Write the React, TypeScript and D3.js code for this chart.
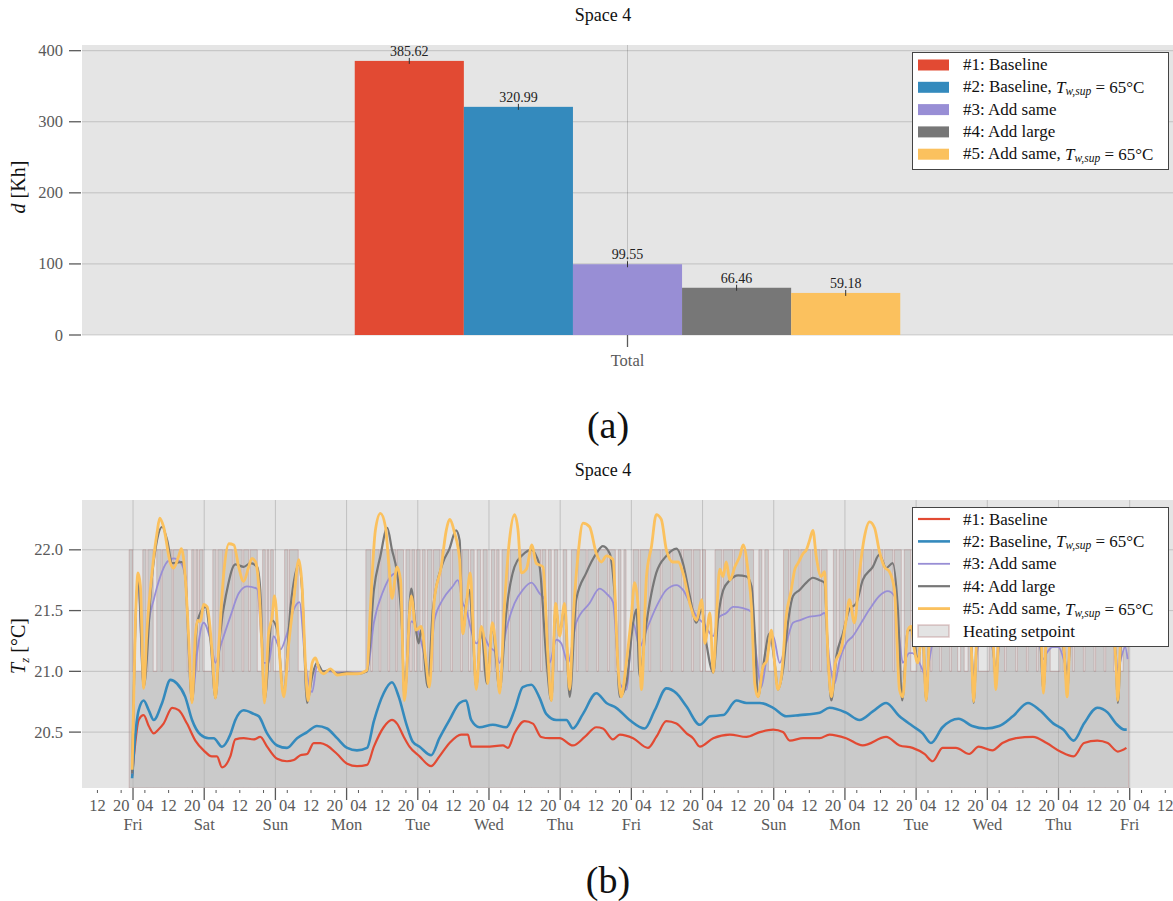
import React from 'react';
import * as d3 from 'd3';

const W = 1173;
const H = 901;
const FONT = "'Liberation Serif', 'DejaVu Serif', serif";

// ---------- Data: bar chart (a) ----------
const barCategories = ['Total'];
const barValues = [385.62, 320.99, 99.55, 66.46, 59.18];
const seriesColors = ['#E24A33', '#348ABD', '#988ED5', '#777777', '#FBC15E'];
const legendBase = ['#1: Baseline', '#2: Baseline, ', '#3: Add same', '#4: Add large', '#5: Add same, '];
const legendHasTsup = [false, true, false, false, true];
const barYTicks = [0, 100, 200, 300, 400];

// ---------- Data: time series (b), [hour since Fri 00:00, °C] ----------
const tempTicks = [20.5, 21.0, 21.5, 22.0];
const dayLabels = ['Fri', 'Sat', 'Sun', 'Mon', 'Tue', 'Wed', 'Thu', 'Fri', 'Sat', 'Sun', 'Mon', 'Tue', 'Wed', 'Thu', 'Fri'];
const hourTicks = [4, 12, 20];

const s1Baseline: [number, number][] = [
  [-0.3,20.14],[0.5,20.35],[1.9,20.60],[3.6,20.64],[5.3,20.55],[7,20.49],[8.5,20.52],[10.3,20.57],[13.2,20.70],[15.4,20.68],[18.2,20.57],[21,20.43],[23.8,20.35],[26.6,20.30],[28.3,20.30],[30,20.21],[32.8,20.30],[34.5,20.44],[37.3,20.45],[40.7,20.44],[42.9,20.46],[45.2,20.38],[48.6,20.28],[51.9,20.26],[54.2,20.27],[56.4,20.31],[58.7,20.32],[60.9,20.41],[63.2,20.41],[65.4,20.39],[68.8,20.32],[72.2,20.24],[75.5,20.22],[78.9,20.23],[81.2,20.38],[84.5,20.54],[87.3,20.60],[89,20.57],[91.3,20.46],[93.2,20.38],[96.6,20.30],[100.5,20.22],[103.3,20.30],[106.7,20.41],[110.6,20.48],[112.9,20.48],[114,20.38],[119.1,20.38],[124.7,20.39],[126.4,20.37],[128.6,20.49],[132,20.59],[134.8,20.57],[137.6,20.46],[140.4,20.45],[143.8,20.45],[148.3,20.39],[152.3,20.46],[156.2,20.54],[158.4,20.53],[161.8,20.44],[164.1,20.48],[168.6,20.45],[173.6,20.37],[176.4,20.46],[179.8,20.59],[183.2,20.57],[186.6,20.49],[188.8,20.45],[191.1,20.38],[195.6,20.45],[201.2,20.48],[206.8,20.46],[211.3,20.50],[215.8,20.52],[219.1,20.50],[221.4,20.43],[225.9,20.45],[231.5,20.45],[234.8,20.48],[240.4,20.45],[246,20.39],[253.9,20.46],[258.4,20.39],[262.8,20.37],[266.8,20.32],[269.6,20.26],[272.9,20.37],[277.4,20.37],[281.9,20.32],[285.1,20.38],[289.7,20.35],[293.1,20.41],[297.7,20.45],[303.4,20.46],[308,20.41],[312.6,20.34],[317.1,20.30],[320.6,20.41],[325.1,20.43],[328.6,20.41],[332,20.34],[334.9,20.37]
];

const s2Baseline65: [number, number][] = [
  [-0.3,20.12],[0.5,20.4],[1.9,20.68],[3.6,20.76],[5.3,20.68],[7,20.60],[9.8,20.74],[12.6,20.93],[14.8,20.90],[17.6,20.79],[19.9,20.60],[22.7,20.48],[25.5,20.45],[27.2,20.45],[30,20.38],[32.8,20.48],[34.5,20.60],[37.3,20.68],[40.7,20.65],[42.4,20.63],[45.2,20.49],[48.6,20.39],[51.9,20.37],[55.3,20.45],[58.7,20.50],[62,20.55],[65.4,20.53],[68.8,20.45],[72.2,20.37],[75.5,20.35],[78.9,20.37],[81.2,20.59],[84.5,20.82],[87.3,20.91],[89.6,20.79],[92.1,20.57],[94.3,20.42],[96.6,20.38],[100.5,20.31],[103.3,20.45],[106.7,20.60],[110.1,20.74],[112.3,20.76],[114,20.60],[116.8,20.54],[121.3,20.56],[125.8,20.54],[128.6,20.68],[131.4,20.87],[134.3,20.89],[137.1,20.78],[139.3,20.65],[142.7,20.60],[146.1,20.60],[148.3,20.53],[151.7,20.65],[156.2,20.82],[159.6,20.74],[162.9,20.70],[167.4,20.60],[172.5,20.53],[175.9,20.68],[179.8,20.86],[183.2,20.82],[186.6,20.71],[191.1,20.56],[194.5,20.63],[199,20.64],[203.4,20.76],[206.8,20.74],[211.3,20.74],[215.8,20.70],[220.3,20.63],[224.7,20.64],[231.5,20.66],[234.8,20.70],[240.4,20.66],[244.9,20.60],[249.4,20.67],[253.9,20.74],[258.4,20.63],[262.8,20.55],[266.2,20.49],[269,20.41],[272.9,20.54],[278.3,20.61],[282.9,20.55],[287.4,20.53],[292,20.55],[296.6,20.63],[301.7,20.74],[305.7,20.68],[310.3,20.57],[313.7,20.52],[317.1,20.43],[320.6,20.57],[325.1,20.70],[328.6,20.66],[331.4,20.57],[334.3,20.52],[335,20.52]
];

const s3AddSame: [number, number][] = [
  [-0.3,20.16],[1.7,21.75],[3.6,20.87],[5.3,21.40],[7,21.59],[9.2,21.78],[11.5,21.90],[13.7,21.93],[15.9,21.90],[17.6,21.78],[19.9,20.76],[21.6,21.15],[23.8,21.40],[26.1,21.26],[27.8,21.07],[29.4,21.20],[32.8,21.45],[35.6,21.64],[38.4,21.70],[41.8,21.68],[44.1,21.07],[45.7,21.07],[47.4,21.29],[49.7,21.18],[51.9,21.31],[54.2,21.51],[56.1,21.57],[58.1,21.07],[60.4,20.83],[62,21.04],[64,21.0],[66.5,21.0],[69,20.99],[72.2,20.99],[75.5,20.99],[78.9,21.0],[81.2,21.40],[84.5,21.67],[86.8,21.78],[89,21.81],[90.7,21.34],[91.5,20.79],[93.8,21.41],[95.4,21.37],[96.6,21.29],[98.8,21.07],[99.9,20.96],[101.6,21.42],[104.4,21.59],[107.8,21.70],[109.5,21.75],[111.2,21.56],[112.3,21.51],[114,21.34],[115.7,21.23],[118,21.29],[120.2,21.20],[122.4,21.15],[123.6,21.07],[125.8,21.34],[128.6,21.56],[131.4,21.67],[134.3,21.73],[137.1,21.64],[138.8,21.59],[140.4,21.07],[142.7,21.26],[144.4,21.23],[146.6,21.07],[149.4,21.40],[153.9,21.56],[157.3,21.68],[159.6,21.64],[161.8,21.57],[164.1,20.90],[166.3,20.85],[168.6,21.40],[170.8,21.20],[173.1,21.34],[176.4,21.53],[179.8,21.67],[183.2,21.71],[185.4,21.67],[188.3,21.53],[190,21.45],[192.2,21.40],[195.6,21.29],[197.3,21.44],[200,21.48],[202.3,21.53],[205.7,21.52],[208.5,21.49],[210.2,21.12],[211.8,20.87],[213.5,21.09],[215.8,21.29],[218,21.07],[220.2,21.23],[222.5,21.40],[224.7,21.42],[228.1,21.45],[231.5,21.46],[233.1,21.48],[234.8,21.09],[236.5,20.90],[238.2,21.09],[240.4,21.23],[242.7,21.29],[245.5,21.40],[248.3,21.51],[251.6,21.62],[254.4,21.66],[256.7,21.62],[258.4,21.26],[259.5,21.07],[261.7,21.15],[262.8,21.15],[265.1,21.07],[267.4,20.96],[268.5,21.1],[270,21.3],[272,21.45],[274,21.55],[276,21.55],[278,21.5],[280,21.45],[282.6,21.2],[283.4,20.95],[284.5,21.15],[286,21.3],[288,21.3],[290.3,21.1],[290.9,20.98],[292,21.2],[294,21.4],[296,21.5],[298,21.58],[300,21.6],[302,21.55],[304,21.5],[305.8,21.2],[306.9,21.1],[308,21.15],[310,21.2],[312,21.2],[314.3,21.05],[314.9,21.0],[316,21.2],[318,21.4],[320,21.5],[322,21.6],[324,21.65],[326,21.6],[328,21.5],[330,21.35],[331.3,21.15],[332,21.0],[333,21.1],[334.5,21.2],[335.3,21.1]
];

const s4AddLarge: [number, number][] = [
  [-0.3,20.16],[1.7,21.78],[3.6,20.87],[6.4,21.78],[8.1,22.08],[9.8,22.19],[11.5,22.08],[13.2,21.89],[16.5,21.90],[17.6,21.78],[19.9,20.75],[21.6,21.40],[24.4,21.53],[26.1,21.26],[27.8,20.78],[29.4,21.31],[31.7,21.67],[34.5,21.88],[37.3,21.86],[39.6,21.89],[41.8,21.86],[42.9,21.67],[44.3,20.76],[46.9,21.42],[48.6,21.34],[50.8,20.82],[53.1,21.53],[55.9,21.88],[57,21.67],[58.7,20.74],[60.4,20.96],[62,21.07],[64,21.0],[66.5,21.01],[69,20.98],[72.2,20.99],[75.5,20.98],[78.9,21.00],[81.2,21.67],[83.4,21.95],[85.7,22.18],[87.3,22.00],[89,21.81],[90.7,21.34],[91.5,20.79],[93.8,21.68],[95.4,21.34],[96.3,21.23],[97.1,21.34],[99.4,20.87],[101.1,21.51],[104.4,21.89],[106.7,22.01],[108.9,22.16],[110.1,22.08],[111.2,21.31],[112.3,21.56],[113.4,21.67],[114.6,21.29],[115.7,20.87],[117.4,21.34],[119.3,20.90],[121.1,21.37],[123.6,20.85],[125.8,21.48],[128.6,21.86],[131.4,21.96],[134.3,22.00],[135.9,21.95],[137.1,21.86],[139.3,21.12],[141,20.76],[142.5,21.53],[143.8,21.31],[145.5,21.53],[147.2,20.79],[149.4,21.59],[152.8,21.81],[156.2,21.97],[158.4,22.03],[160.7,21.97],[162.4,21.62],[164.1,20.79],[166.3,20.90],[168.6,21.40],[169.7,21.51],[170.8,20.96],[173.1,21.40],[176.4,21.81],[179.8,21.95],[183.2,22.01],[185.4,21.89],[187.7,21.62],[189.9,21.40],[191.7,21.51],[193.3,21.23],[195.6,20.99],[197.3,21.45],[199,21.67],[201.2,21.75],[204,21.79],[206.8,21.78],[208.5,21.70],[209.6,21.31],[210.7,20.79],[212.4,21.04],[214.6,21.31],[216.3,21.07],[217.4,20.85],[219.1,21.01],[220.8,21.40],[222.5,21.62],[224.7,21.67],[227,21.73],[229.2,21.77],[231.5,21.75],[233.1,21.73],[234.3,21.12],[235.4,20.76],[237.1,21.12],[239.3,21.31],[241.5,21.51],[243.8,21.56],[246,21.75],[249.4,21.86],[251.6,21.96],[253.9,21.85],[256.1,21.89],[257.8,21.53],[259.3,20.76],[261.2,21.34],[262.8,21.34],[264.5,21.09],[266.2,21.31],[267.4,20.76],[268.5,21.3],[270,21.6],[272,21.8],[274,21.9],[276,21.85],[278,21.75],[280,21.6],[282.6,21.25],[283.4,20.74],[284.5,21.3],[286,21.5],[288,21.45],[290.3,21.1],[290.9,20.9],[292,21.35],[294,21.7],[296,21.85],[298,21.95],[300,21.95],[302,21.85],[304,21.75],[305.8,21.3],[306.9,20.85],[308,21.3],[310,21.5],[312,21.4],[314.3,21.05],[314.9,20.82],[316,21.35],[318,21.7],[320,21.85],[322,21.95],[324,21.95],[326,21.85],[328,21.7],[330,21.45],[331.3,21.1],[332,20.74],[333,21.2],[334.5,21.45],[335.3,21.2]
];

const s5AddSame65: [number, number][] = [
  [-0.3,20.19],[0.8,21.40],[1.7,21.81],[2.5,21.70],[3.6,20.86],[4.7,21.34],[6.4,21.81],[8.1,22.14],[9,22.26],[10.3,22.19],[12.6,21.89],[13.7,21.85],[15.4,21.95],[16.3,22.01],[17.6,21.78],[18.8,21.26],[19.9,20.74],[21,21.29],[21.8,21.42],[22.7,21.41],[23.8,21.55],[25,21.53],[26.6,21.18],[27.8,20.78],[28.9,21.20],[30.6,21.81],[32.3,22.05],[34,22.04],[35.6,21.86],[37.3,21.74],[39,21.86],[40.1,21.93],[41.3,21.90],[42.4,21.70],[43.5,21.18],[44.3,20.74],[45.7,21.31],[46.9,21.45],[47.7,21.62],[49.1,21.23],[50.8,20.79],[52.5,21.23],[54.2,21.59],[55.9,21.92],[57,21.70],[58.1,21.07],[59,20.76],[60.4,21.07],[61.5,21.11],[62.9,21.01],[64.3,20.98],[66.5,21.02],[68.8,20.97],[72.2,20.98],[75.5,20.98],[78.9,21.01],[80,21.51],[81.7,22.16],[83.4,22.30],[85.1,22.19],[86.2,21.89],[87.3,21.60],[89,21.86],[90.2,21.75],[91.5,20.76],[93.8,21.62],[95.4,21.34],[97.1,21.37],[98.8,21.07],[99.9,20.87],[101.6,21.59],[103.9,21.86],[105.6,22.16],[106.7,22.25],[108.4,22.14],[110.1,21.92],[111.2,21.31],[112.3,21.53],[113.7,21.81],[114.6,21.40],[115.7,20.85],[117.4,21.37],[119.1,21.07],[119.6,20.90],[121.1,21.40],[122.4,21.18],[123.6,20.82],[125.2,21.53],[126.9,22.08],[128.6,22.29],[129.8,22.16],[130.9,21.81],[132.6,21.84],[134.5,22.04],[135.9,21.89],[138.2,21.86],[139.9,21.12],[141,20.76],[142.5,21.56],[143.8,21.29],[145.5,21.56],[147.2,20.85],[148.3,21.40],[150,21.95],[151.7,22.22],[153.9,22.19],[156.2,21.97],[157.9,21.90],[159.6,21.95],[161.8,21.92],[163.5,21.04],[164.6,20.79],[166.3,21.07],[168,21.45],[169.1,21.73],[170.3,21.53],[171.4,20.85],[173.1,21.78],[174.8,22.03],[176.4,22.29],[178.1,22.25],[179.8,22.00],[182,21.90],[183.8,21.90],[185.4,21.81],[187.7,21.56],[190,21.42],[191.7,21.59],[192.8,21.23],[194.5,21.48],[195.6,20.99],[196.7,21.45],[197.8,21.84],[198.9,21.78],[200,21.90],[201.2,21.75],[202.9,21.86],[204.6,21.95],[205.7,22.04],[207.4,21.81],[208.5,21.53],[209.6,20.90],[210.7,20.79],[212.4,21.04],[213.7,21.09],[215.2,21.34],[216.3,21.07],[217.4,20.85],[218.6,20.96],[220.2,21.45],[221.9,21.67],[223.1,21.84],[224.2,21.89],[225.9,21.97],[227,22.00],[228.1,22.08],[229.2,22.16],[230.3,21.95],[232,21.78],[233.1,21.82],[234.3,21.12],[235.4,20.79],[236.8,21.07],[238.7,21.18],[240.4,21.42],[241.5,21.59],[243.2,21.40],[244.9,21.81],[246.6,22.11],[248.3,22.23],[250,22.18],[251.6,21.99],[253.3,21.86],[255,21.82],[256.7,21.67],[258.4,20.85],[259.5,20.79],[261.2,21.34],[262.3,21.37],[263.4,21.18],[264.5,21.07],[266.2,21.34],[267.4,20.76],[268.5,21.3],[270,21.7],[272,21.95],[274,22.1],[276,21.9],[278,21.75],[280,21.6],[281.5,21.5],[282.6,21.2],[283.4,20.75],[284.5,21.3],[286,21.6],[288,21.5],[289.5,21.4],[290.3,21.1],[290.9,20.85],[292,21.4],[294,21.85],[296,22.1],[298,22.2],[300,22.0],[302,21.85],[304,21.8],[305.5,21.6],[306.3,21.2],[306.9,20.82],[308,21.35],[310,21.6],[312,21.45],[313.5,21.3],[314.3,21.0],[314.9,20.79],[316,21.4],[318,21.8],[320,22.05],[322,22.2],[324,22.0],[326,21.85],[328,21.8],[330,21.5],[331.3,21.1],[332,20.76],[333,21.3],[334.5,21.5],[335.3,21.2]
];

// Heating setpoint: 22 °C inside these [start, end] hour intervals, 21 °C otherwise
const setpointLow = 21;
const setpointHigh = 22;
const setpointSpan: [number, number] = [-1.3, 335.6];
const setpointOn: [number, number][] = [
  [-1.3,-0.2],[3.3,4.4],[5.0,6.8],[8.0,9.5],[9.9,13.2],[13.6,18.3],[19.8,20.6],[21.2,21.9],[22.4,23.6],
  [26.9,28.0],[28.6,30.2],[30.6,33.5],[34.0,36.8],[37.3,39.0],[39.5,41.9],[43.7,44.6],[45.2,45.8],[46.4,47.3],[51.1,52.2],[52.7,55.7],
  [78.5,80.2],[80.7,83.0],[83.5,86.0],[86.5,88.6],[89.0,91.2],[92.0,93.4],[94.0,95.0],[95.6,96.8],
  [97.5,98.5],[99.2,100.8],[101.3,103.5],[104.0,107.2],[107.7,110.5],[111.0,113.2],[113.8,115.0],[116.0,117.2],[118.0,119.4],
  [120.8,122.0],[122.6,123.4],[124.4,126.6],[127.1,130.4],[130.9,133.8],[134.3,137.4],[137.9,139.2],[140.0,141.0],[142.0,143.2],
  [145.0,146.2],[147.8,149.5],[150.0,152.8],[153.3,156.4],[156.9,160.0],[160.5,162.6],[163.6,164.5],
  [165.5,166.2],[168.6,170.5],[171.0,174.0],[174.5,177.8],[178.3,181.4],[181.9,185.0],[185.5,188.4],[188.9,191.2],
  [192.0,193.0],[196.2,198.5],[199.0,202.2],[202.7,205.8],[206.3,209.2],[211.0,212.0],[213.0,214.2],
  [219.3,221.0],[221.5,224.6],[225.1,228.4],[228.9,231.6],[232.1,234.0],[236.1,237.3],[238.0,239.5],[240.2,242.9],
  [243.4,245.6],[246.1,249.0],[249.5,252.8],[253.3,256.2],[256.7,259.0],[260.0,262.2],
  [264.2,265.5],[266.2,268.8],[269.3,272.0],[272.5,275.4],[275.9,278.0],[279.0,280.2],[281.5,282.5],[284.0,285.0],
  [288.6,290.0],[291.2,293.8],[294.3,297.6],[298.1,301.2],[301.7,304.6],[305.1,306.8],[308.0,309.2],
  [312.4,313.6],[314.4,316.8],[317.3,320.4],[320.9,324.0],[324.5,327.4],[327.9,330.6],[331.5,332.8],[333.8,335.6]
];

const tempSeries = [s1Baseline, s2Baseline65, s3AddSame, s4AddLarge, s5AddSame65];
const lineWidths = [2.2, 2.6, 1.8, 2.2, 2.8];

// ---------- Layout ----------
const A = { left: 82, right: 1173, top: 45, bottom: 335 };
const B = { left: 82, right: 1173, top: 500, bottom: 788 };
const BG = '#E5E5E5';
const GRID = 'rgba(0,0,0,0.16)';
const TICKC = '#5a5a5a';
const TICKFS = 16.5;

function LegendLabel({ i, x, y }: { i: number; x: number; y: number }) {
  return (
    <text x={x} y={y} fontSize={17} fill="#111" dominantBaseline="central">
      {legendBase[i]}
      {legendHasTsup[i] && (
        <>
          <tspan fontStyle="italic">T</tspan>
          <tspan fontStyle="italic" fontSize={11.5} dy={4}>w,sup</tspan>
          <tspan dy={-4}>{' = 65°C'}</tspan>
        </>
      )}
    </text>
  );
}

export default function App() {
  // ---- (a) bar chart scales
  const xBar = d3.scaleLinear().domain([-1, 1]).range([A.left, A.right]);
  const yBar = d3.scaleLinear().domain([0, 408]).range([A.bottom, A.top]);
  const barW = 0.2;

  // ---- (b) time series scales
  const xT = d3.scaleLinear().domain([-17.2, 350.6]).range([B.left, B.right]);
  const yT = d3.scaleLinear().domain([20.04, 22.41]).range([B.bottom, B.top]);
  const line = d3
    .line<[number, number]>()
    .x((d) => xT(d[0]))
    .y((d) => yT(d[1]))
    .curve(d3.curveMonotoneX);

  const spPts: [number, number][] = [[setpointSpan[0], setpointLow]];
  setpointOn.forEach(([a, b]) => {
    spPts.push([a, setpointHigh]);
    spPts.push([b, setpointLow]);
  });
  spPts.push([setpointSpan[1], setpointLow]);
  const spArea = d3
    .area<[number, number]>()
    .x((d) => xT(d[0]))
    .y0(B.bottom)
    .y1((d) => yT(d[1]))
    .curve(d3.curveStepAfter);

  const hourTickVals: number[] = [];
  for (let d = -1; d <= 14; d++) {
    hourTicks.forEach((hh) => {
      const h = d * 24 + hh;
      if (h >= xT.domain()[0] && h <= xT.domain()[1]) hourTickVals.push(h);
    });
  }
  const dayTickVals = dayLabels.map((_, i) => i * 24);

  return (
    <svg
      width={W}
      height={H}
      style={{ position: 'absolute', left: 0, top: 0, background: '#fff' }}
      fontFamily={FONT}
    >
      <defs>
        <clipPath id="clipB">
          <rect x={B.left} y={B.top} width={B.right - B.left} height={B.bottom - B.top} />
        </clipPath>
      </defs>

      {/* ================= (a) ================= */}
      <text x={603} y={21} fontSize={18} textAnchor="middle" fill="#111">Space 4</text>
      <rect x={A.left} y={A.top} width={A.right - A.left} height={A.bottom - A.top} fill={BG} />
      {barYTicks.map((t) => (
        <g key={'ga' + t}>
          <line x1={A.left} x2={A.right} y1={yBar(t)} y2={yBar(t)} stroke={GRID} />
          <line x1={69} x2={81} y1={yBar(t)} y2={yBar(t)} stroke={TICKC} strokeWidth={1.3} />
          <text x={63} y={yBar(t)} fontSize={TICKFS} fill={TICKC} textAnchor="end" dominantBaseline="central">{t}</text>
        </g>
      ))}
      {barCategories.map((c, ci) => (
        <g key={c}>
          <line x1={xBar(ci)} x2={xBar(ci)} y1={A.top} y2={A.bottom} stroke={GRID} />
          <line x1={xBar(ci)} x2={xBar(ci)} y1={A.bottom} y2={A.bottom + 12} stroke={TICKC} strokeWidth={1.3} />
          <text x={xBar(ci)} y={A.bottom + 25} fontSize={TICKFS} fill={TICKC} textAnchor="middle" dominantBaseline="central">{c}</text>
        </g>
      ))}
      {barValues.map((v, i) => {
        const x0 = xBar(-0.5 + barW * i);
        const x1 = xBar(-0.5 + barW * (i + 1));
        const cx = (x0 + x1) / 2;
        return (
          <g key={'bar' + i}>
            <rect x={x0} y={yBar(v)} width={x1 - x0} height={yBar(0) - yBar(v)} fill={seriesColors[i]} />
            <line x1={cx} x2={cx} y1={yBar(v) - 3} y2={yBar(v) + 3} stroke="#333" strokeWidth={1} />
            <text x={cx} y={yBar(v) - 5} fontSize={14} textAnchor="middle" fill="#222">{v.toFixed(2)}</text>
          </g>
        );
      })}
      <text transform={`translate(25,${(A.top + A.bottom) / 2 - 3}) rotate(-90)`} fontSize={20} textAnchor="middle" fill="#111">
        <tspan fontStyle="italic">d</tspan>
        <tspan>{' [Kh]'}</tspan>
      </text>
      {/* legend (a) */}
      <rect x={912.5} y={52.5} width={256} height={117} fill="#fff" stroke="#444" strokeWidth={1} />
      {barValues.map((_, i) => (
        <g key={'la' + i}>
          <rect x={918} y={59.5 + i * 22.3} width={31} height={11} fill={seriesColors[i]} />
          <LegendLabel i={i} x={963} y={64.5 + i * 22.3} />
        </g>
      ))}
      <text x={608} y={438} fontSize={38} textAnchor="middle" fill="#111">(a)</text>

      {/* ================= (b) ================= */}
      <text x={603} y={476} fontSize={18} textAnchor="middle" fill="#111">Space 4</text>
      <rect x={B.left} y={B.top} width={B.right - B.left} height={B.bottom - B.top} fill={BG} />
      <g clipPath="url(#clipB)">
        {tempTicks.map((t) => (
          <line key={'gb' + t} x1={B.left} x2={B.right} y1={yT(t)} y2={yT(t)} stroke={GRID} />
        ))}
        {dayTickVals.map((h) => (
          <line key={'gv' + h} x1={xT(h)} x2={xT(h)} y1={B.top} y2={B.bottom} stroke={GRID} />
        ))}
        <path d={spArea(spPts) || ''} fill="#b0b0b0" fillOpacity={0.5} stroke="#a86a6a" strokeOpacity={0.3} strokeWidth={1} />
        {tempSeries.map((s, i) => (
          <path key={'ln' + i} d={line(s) || ''} fill="none" stroke={seriesColors[i]} strokeWidth={lineWidths[i]} strokeLinejoin="round" />
        ))}
      </g>
      {tempTicks.map((t) => (
        <g key={'yt' + t}>
          <line x1={69} x2={81} y1={yT(t)} y2={yT(t)} stroke={TICKC} strokeWidth={1.3} />
          <text x={63} y={yT(t)} fontSize={TICKFS} fill={TICKC} textAnchor="end" dominantBaseline="central">{t.toFixed(1)}</text>
        </g>
      ))}
      {hourTickVals.map((h) => {
        const hh = ((h % 24) + 24) % 24;
        return (
          <g key={'ht' + h}>
            <line x1={xT(h)} x2={xT(h)} y1={B.bottom + 2} y2={B.bottom + 5} stroke={TICKC} strokeWidth={1} />
            <text x={xT(h)} y={B.bottom + 17} fontSize={TICKFS} fill={TICKC} textAnchor="middle" dominantBaseline="central">
              {String(hh).padStart(2, '0')}
            </text>
          </g>
        );
      })}
      {dayTickVals.map((h, i) => (
        <g key={'dt' + h}>
          <line x1={xT(h)} x2={xT(h)} y1={B.bottom} y2={B.bottom + 12} stroke={TICKC} strokeWidth={1.3} />
          <text x={xT(h)} y={B.bottom + 36} fontSize={TICKFS} fill={TICKC} textAnchor="middle" dominantBaseline="central">
            {dayLabels[i]}
          </text>
        </g>
      ))}
      <text transform={`translate(25,${(B.top + B.bottom) / 2 + 2}) rotate(-90)`} fontSize={20} textAnchor="middle" fill="#111">
        <tspan fontStyle="italic">T</tspan>
        <tspan fontStyle="italic" fontSize={13} dy={4}>z</tspan>
        <tspan dy={-4}>{' [°C]'}</tspan>
      </text>
      {/* legend (b) */}
      <rect x={912.5} y={507.5} width={256} height={139} fill="#fff" stroke="#444" strokeWidth={1} />
      {tempSeries.map((_, i) => (
        <g key={'lb' + i}>
          <line x1={918} x2={950} y1={519 + i * 22.4} y2={519 + i * 22.4} stroke={seriesColors[i]} strokeWidth={lineWidths[i]} />
          <LegendLabel i={i} x={963} y={519 + i * 22.4} />
        </g>
      ))}
      <rect x={918} y={625} width={31} height={12} fill="#b0b0b0" fillOpacity={0.35} stroke="#a86a6a" strokeOpacity={0.35} strokeWidth={1.5} />
      <text x={963} y={631} fontSize={17} fill="#111" dominantBaseline="central">Heating setpoint</text>
      <text x={608} y={893} fontSize={38} textAnchor="middle" fill="#111">(b)</text>
    </svg>
  );
}
